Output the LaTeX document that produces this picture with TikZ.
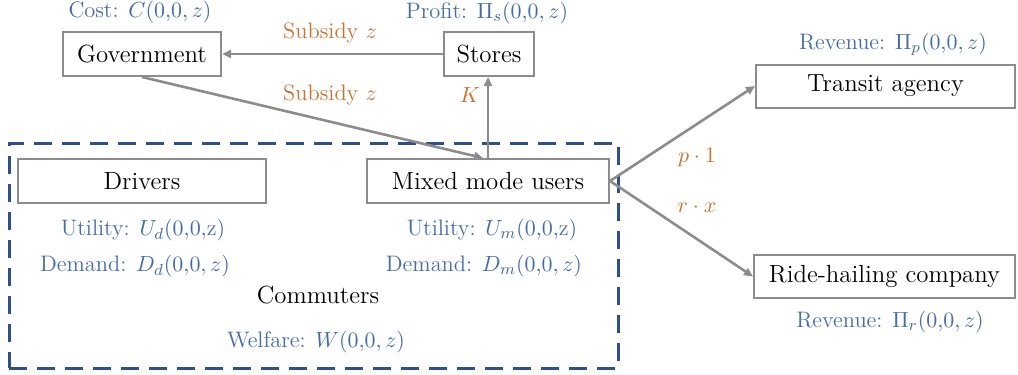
\documentclass[tikz,border=0pt]{standalone}
\usepackage{fontspec}
\usetikzlibrary{arrows.meta}
\definecolor{lblue}{RGB}{68,107,170}
\definecolor{lorange}{RGB}{204,112,46}
\definecolor{dblue}{RGB}{46,78,140}
\definecolor{agray}{RGB}{140,140,140}
\begin{document}
\begin{tikzpicture}[x=0.5pt,y=-0.5pt,
  box/.style={draw=agray,line width=1pt,fill=white,inner sep=0pt,
    font=\rmfamily\fontsize{12.4}{15}\selectfont,text=black},
  info/.style={text=lblue,inner sep=0pt,font=\rmfamily\fontsize{11.2}{14}\selectfont},
  flow/.style={text=lorange,inner sep=0pt,font=\rmfamily\fontsize{11.2}{14}\selectfont},
  plain/.style={text=black,inner sep=0pt,font=\rmfamily\fontsize{12.4}{15}\selectfont},
  conn/.style={draw=agray,line width=1.3pt,-{Triangle[length=4.5pt,width=4pt]}}]
\useasboundingbox (0,0) rectangle (1018,375);
% commuters group
\node[draw=dblue,line width=1.5pt,dash pattern=on 9pt off 5pt,minimum width=609*0.5pt,minimum height=225*0.5pt,inner sep=0pt] (grp) at (313.5,255.5) {};
% boxes
\node[box,minimum width=79pt,minimum height=22pt] (gov) at (142,54) {Government};
\node[box,minimum width=45pt,minimum height=22pt] (stores) at (489,54) {Stores};
\node[box,minimum width=129.5pt,minimum height=21.5pt] (transit) at (885.5,86) {Transit agency};
\node[box,minimum width=130.5pt,minimum height=21.5pt] (ride) at (884.5,276.5) {Ride-hailing company};
\node[box,minimum width=124pt,minimum height=22pt] (drivers) at (142,181) {Drivers};
\node[box,minimum width=121pt,minimum height=22pt] (mixed) at (488,181) {Mixed mode users};
% info labels
\node[info] (cost) at (140,12) {Cost: $C(0{,}0,z)$};
\node[info] (profit) at (487,13) {Profit: $\Pi_s(0{,}0,z)$};
\node[info] (revp) at (893,44) {Revenue: $\Pi_p(0{,}0,z)$};
\node[info] (revr) at (890,322) {Revenue: $\Pi_r(0{,}0,z)$};
\node[info] (ud) at (143,230) {Utility: $U_d(0{,}0{,}\mathrm{z})$};
\node[info] (dd) at (135,266) {Demand: $D_d(0{,}0,z)$};
\node[info] (um) at (492,230) {Utility: $U_m(0{,}0{,}\mathrm{z})$};
\node[info] (dm) at (484,266) {Demand: $D_m(0{,}0,z)$};
\node[plain] (comm) at (318,295) {Commuters};
\node[info] (wel) at (316,342) {Welfare: $W(0{,}0,z)$};
% flow labels
\node[flow] (s1) at (330,33) {Subsidy $z$};
\node[flow] (s2) at (330,95) {Subsidy $z$};
\node[flow] (k) at (470,95) {$K$};
\node[flow] (p1) at (697,158) {$p\cdot 1$};
\node[flow] (rx) at (697,208) {$r\cdot x$};
% connectors
\draw[conn] (stores.west) -- (gov.east);
\draw[conn] (gov.south) -- ([xshift=-2.5pt]mixed.north);
\draw[conn] (mixed.north) -- (mixed.north |- stores.south);
\draw[conn] (mixed.east) -- (transit.west);
\draw[conn] (mixed.east) -- (ride.west);
\end{tikzpicture}
\end{document}
